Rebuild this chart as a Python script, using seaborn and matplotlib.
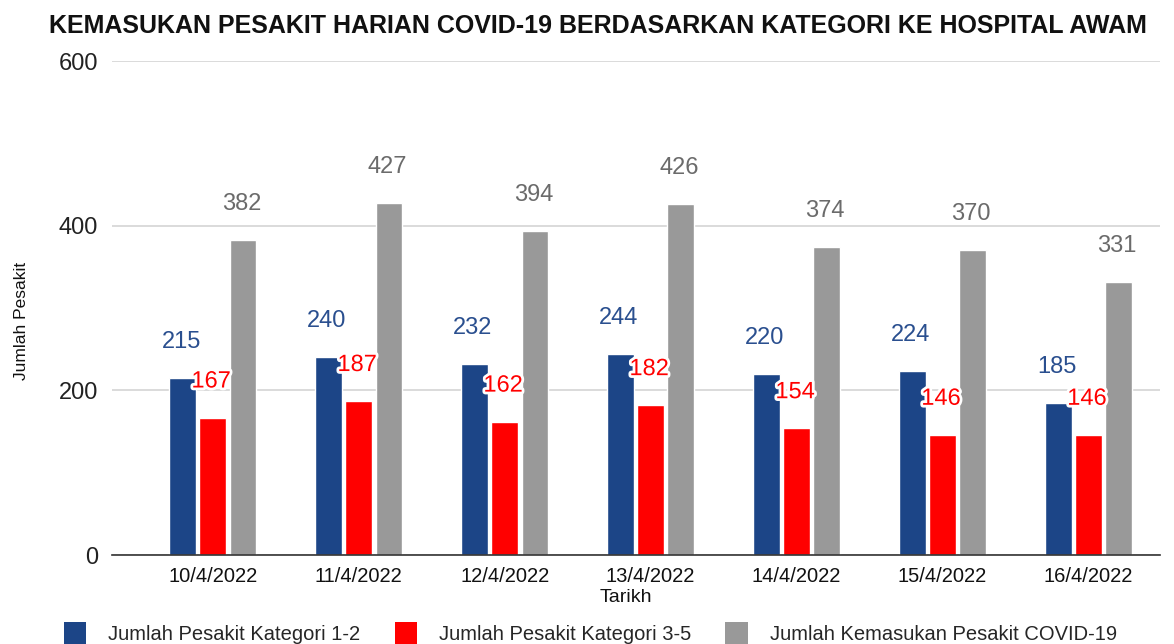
import matplotlib
matplotlib.use("Agg")
import matplotlib.pyplot as plt
import seaborn as sns
import pandas as pd
from matplotlib import patheffects as pe
from matplotlib.patches import Patch

dates = ["10/4/2022", "11/4/2022", "12/4/2022", "13/4/2022", "14/4/2022", "15/4/2022", "16/4/2022"]
kategori_1_2 = [215, 240, 232, 244, 220, 224, 185]
kategori_3_5 = [167, 187, 162, 182, 154, 146, 146]
jumlah_kemasukan = [382, 427, 394, 426, 374, 370, 331]
series_names = ["Jumlah Pesakit Kategori 1-2", "Jumlah Pesakit Kategori 3-5", "Jumlah Kemasukan Pesakit COVID-19"]
yticks = [0, 200, 400, 600]

colors = ["#1c4587", "#ff0000", "#999999"]
label_colors = ["#2a4f8f", "#ff0000", "#6b6b6b"]

rows = []
for s, vals in zip(series_names, [kategori_1_2, kategori_3_5, jumlah_kemasukan]):
    for d, v in zip(dates, vals):
        rows.append({"Tarikh": d, "Siri": s, "Nilai": v})
df = pd.DataFrame(rows)

sns.set_theme(style="white")
plt.rcParams["font.family"] = ["Liberation Sans", "DejaVu Sans"]

W, H = 1174, 644
fig = plt.figure(figsize=(W / 100, H / 100), dpi=100)
ax = fig.add_axes([112 / W, 1 - 555 / H, (1160 - 112) / W, (555 - 61) / H])

sns.barplot(data=df, x="Tarikh", y="Nilai", hue="Siri", hue_order=series_names,
            palette=colors, width=0.62, gap=0.12, saturation=1, ax=ax,
            legend=False, errorbar=None)

for i, cont in enumerate(ax.containers):
    for bar in cont:
        h = bar.get_height()
        t = ax.annotate(f"{int(h)}", (bar.get_x() + bar.get_width() / 2 - 0.01, h),
                        xytext=(0, 18), textcoords="offset points", ha="center", va="bottom",
                        fontsize=17, color=label_colors[i])
        if i == 1:
            t.set_path_effects([pe.withStroke(linewidth=4, foreground="white")])

ax.set_ylim(0, 600)
ax.set_yticks(yticks)
ax.set_yticklabels([str(v) for v in yticks], fontsize=17, color="#222222")
ax.set_xlim(-0.69, 6.49)
ax.tick_params(axis="x", labelsize=14.5, length=0, pad=9, labelcolor="#111111")
ax.tick_params(axis="y", length=0, pad=10)
ax.yaxis.grid(True, color="#d4d4d4", linewidth=1.2)
ax.set_axisbelow(True)
for sp in ["top", "right", "left"]:
    ax.spines[sp].set_visible(False)
ax.spines["bottom"].set_color("#333333")
ax.spines["bottom"].set_linewidth(1.2)

ax.set_xlabel("")
ax.set_ylabel("")
fig.text(626 / W, 1 - 597 / H, "Tarikh", ha="center", va="center", fontsize=14, color="#111111")
fig.text(22 / W, 1 - 321 / H, "Jumlah Pesakit", ha="center", va="center", rotation=90,
         fontsize=12.5, color="#111111")

fig.text(598 / W, 1 - 26 / H, "KEMASUKAN PESAKIT HARIAN COVID-19 BERDASARKAN KATEGORI KE HOSPITAL AWAM",
         ha="center", va="center", fontsize=18, fontweight="bold", color="#111111")

handles = [Patch(facecolor=c, edgecolor="none") for c in colors]
fig.legend(handles, series_names, loc="center left", bbox_to_anchor=(64 / W, 1 - 633 / H), ncol=3,
           frameon=False, fontsize=14.5, handlelength=1.1, handleheight=1.3,
           columnspacing=1.7, handletextpad=1.1, borderaxespad=0, borderpad=0)

fig.savefig("out.png", dpi=100, facecolor="white")
